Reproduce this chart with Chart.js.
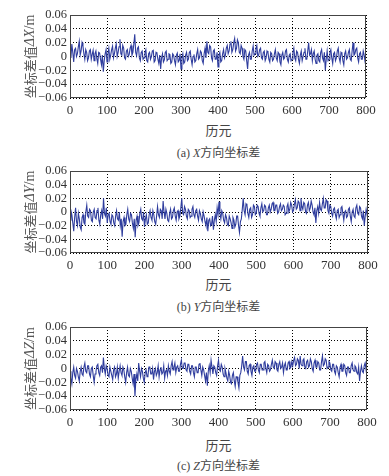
<!DOCTYPE html>
<html>
<head>
<meta charset="utf-8">
<script src="https://cdn.jsdelivr.net/npm/chart.js@4.4.0/dist/chart.umd.min.js"></script>
<style>
  html, body { margin: 0; padding: 0; background: #fff; }
  #wrap { position: relative; width: 389px; height: 476px; overflow: hidden; background: #fff; }
  canvas { position: absolute; left: 0; }
  .lbl { position: absolute; left: 24px; width: 389px; text-align: center; color: #444;
         font-family: "Noto Sans CJK SC", sans-serif; font-size: 12px; line-height: 14px; white-space: nowrap; }
  .xl { font-size: 13px; }
  .ser { font-family: "Liberation Serif", serif; }
  .it { font-family: "Liberation Serif", serif; font-style: italic; }
</style>
</head>
<body>
<div id="wrap">
  <canvas id="cA"></canvas>
  <canvas id="cB"></canvas>
  <canvas id="cC"></canvas>
  <div class="lbl xl" id="xa">历元</div>
  <div class="lbl" id="ca"><span class="ser">(a) </span><span class="it">X</span>方向坐标差</div>
  <div class="lbl xl" id="xb">历元</div>
  <div class="lbl" id="cb"><span class="ser">(b) </span><span class="it">Y</span>方向坐标差</div>
  <div class="lbl xl" id="xc">历元</div>
  <div class="lbl" id="cc"><span class="ser">(c) </span><span class="it">Z</span>方向坐标差</div>
</div>
<script>
// ---- data (epoch step 2.5, values in metres) ----
const epochs = Array.from({length: 321}, (_, i) => i * 2.5);

const dX = [
 0.005,-0.002, 0.018, 0.006,-0.008, 0.010, 0.012, 0.000, 0.004, 0.014,
 0.022, 0.002, 0.008, 0.020, 0.015, 0.004,-0.004, 0.010, 0.006,-0.006,
-0.002, 0.008, 0.010,-0.004, 0.003, 0.009,-0.006, 0.004, 0.008,-0.003,
-0.010, 0.006, 0.005,-0.004,-0.012, 0.002,-0.022,-0.006, 0.004, 0.010,
-0.008, 0.004, 0.012,-0.004, 0.002, 0.010, 0.015,-0.002, 0.004, 0.012,
 0.018, 0.000, 0.006, 0.014, 0.025, 0.004, 0.002, 0.016, 0.012,-0.002,
-0.004, 0.008, 0.010, 0.000, 0.003, 0.012, 0.016, 0.002, 0.006, 0.018,
 0.032, 0.006, 0.001, 0.012, 0.014,-0.002,-0.006, 0.006, 0.008,-0.004,
-0.002, 0.006, 0.010,-0.006,-0.008, 0.004, 0.006,-0.004, 0.000, 0.008,
 0.009,-0.008,-0.006, 0.006, 0.005,-0.004,-0.010, 0.002,-0.018,-0.002,
 0.004,-0.008,-0.005, 0.006, 0.008,-0.006,-0.004, 0.004, 0.003,-0.010,
-0.008, 0.004, 0.002,-0.006,-0.012, 0.002, 0.005,-0.008,-0.006, 0.004,
-0.018,-0.002, 0.004,-0.010,-0.008, 0.002, 0.006,-0.006,-0.004, 0.006,
 0.008,-0.004,-0.012, 0.000, 0.003,-0.008,-0.006, 0.004, 0.010,-0.004,
-0.002, 0.008, 0.006,-0.006,-0.010, 0.004, 0.012,-0.002, 0.022, 0.006,
 0.004, 0.016, 0.014,-0.002,-0.006, 0.008, 0.010,-0.004,-0.004, 0.006,
-0.015, 0.002, 0.006,-0.008,-0.006, 0.004, 0.010,-0.002, 0.002, 0.012,
 0.016, 0.004, 0.008, 0.018, 0.022, 0.006, 0.010, 0.020, 0.026, 0.008,
 0.012, 0.024, 0.020, 0.006, 0.004, 0.016, 0.012, 0.000,-0.004, 0.010,
 0.008,-0.006,-0.018, 0.002, 0.006,-0.004,-0.004, 0.008, 0.015, 0.002,
 0.004, 0.012, 0.016, 0.000, 0.002, 0.010, 0.012,-0.002,-0.004, 0.006,
 0.008,-0.006,-0.002, 0.008, 0.006,-0.004,-0.008, 0.006, 0.004,-0.006,
-0.004, 0.004, 0.010,-0.002,-0.006, 0.006, 0.004,-0.008,-0.012, 0.002,
 0.006,-0.004,-0.002, 0.008, 0.010,-0.004,-0.008, 0.002, 0.004,-0.006,
-0.004, 0.006, 0.012,-0.002,-0.006, 0.008, 0.006,-0.004,-0.010, 0.002,
 0.008,-0.006, 0.000, 0.006, 0.012,-0.004,-0.004, 0.008, 0.020, 0.002,
 0.004, 0.010,-0.006, 0.004, 0.008,-0.004,-0.010, 0.002, 0.004,-0.006,
-0.008, 0.006, 0.010,-0.002,-0.006, 0.006,-0.020,-0.004, 0.008,-0.006,
-0.004, 0.006, 0.010,-0.002,-0.010, 0.004, 0.006,-0.006,-0.002, 0.008,
 0.012,-0.002,-0.008, 0.006, 0.004,-0.006,-0.012, 0.004, 0.008,-0.004,
-0.002, 0.006, 0.010,-0.004,-0.006, 0.008, 0.020, 0.002, 0.004, 0.010,
 0.012,-0.002,-0.008, 0.004, 0.006,-0.004,-0.004, 0.008, 0.002,-0.008,
-0.015
];

const dY = [
-0.012, 0.002,-0.004,-0.016,-0.028,-0.008, 0.006,-0.014,-0.020,-0.002,
-0.010,-0.022,-0.026,-0.008,-0.004,-0.016,-0.018, 0.000, 0.010,-0.006,
-0.008, 0.004, 0.002,-0.012,-0.014, 0.000, 0.004,-0.008,-0.010, 0.002,
 0.006,-0.012,-0.018,-0.004, 0.002,-0.010, 0.020,-0.002,-0.006, 0.006,
-0.016,-0.004,-0.002,-0.014,-0.018,-0.004,-0.006,-0.016,-0.020,-0.006,
 0.002,-0.010,-0.012, 0.000,-0.020,-0.010,-0.036,-0.014,-0.008,-0.020,
-0.018,-0.004, 0.004,-0.010,-0.014,-0.002,-0.004,-0.016,-0.024,-0.010,
-0.037,-0.012,-0.006,-0.020,-0.016,-0.002, 0.004,-0.010,-0.012, 0.000,
-0.022,-0.010,-0.004,-0.018,-0.016,-0.004, 0.002,-0.008,-0.012, 0.002,
-0.004,-0.014,-0.018,-0.006, 0.008,-0.004,-0.008, 0.004, 0.002,-0.010,
 0.016, 0.000,-0.010, 0.004,-0.002,-0.012,-0.014,-0.002, 0.004,-0.010,
-0.008, 0.002, 0.006,-0.006,-0.012, 0.000, 0.002,-0.010,-0.006, 0.006,
 0.020,-0.002,-0.004, 0.008, 0.004,-0.006,-0.010, 0.004, 0.002,-0.008,
-0.006, 0.004, 0.008,-0.004,-0.008, 0.002, 0.004,-0.006,-0.012, 0.002,
-0.002,-0.010,-0.014, 0.000,-0.006,-0.014,-0.020,-0.008,-0.028,-0.012,
-0.010,-0.020,-0.018,-0.006,-0.026,-0.012,-0.004,-0.014, 0.006,-0.004,
 0.015,-0.002,-0.010, 0.002,-0.002,-0.012,-0.016,-0.004,-0.008,-0.018,
-0.020,-0.006,-0.010,-0.016,-0.024,-0.008,-0.012,-0.022,-0.018,-0.006,
-0.006,-0.020,-0.030,-0.014,-0.010, 0.004, 0.020, 0.002,-0.004, 0.012,
 0.010,-0.002,-0.008, 0.004, 0.006,-0.008,-0.004, 0.010, 0.008,-0.004,
-0.002, 0.010, 0.008,-0.002,-0.006, 0.006, 0.012, 0.000, 0.002, 0.010,
 0.008,-0.004,-0.004, 0.006, 0.010, 0.000, 0.004, 0.012, 0.014, 0.002,
 0.002, 0.010, 0.010,-0.002, 0.000, 0.008, 0.012, 0.002, 0.004, 0.010,
 0.008,-0.004,-0.002, 0.008, 0.012, 0.000, 0.004, 0.014, 0.010, 0.000,
 0.002, 0.012, 0.018, 0.004, 0.006, 0.016, 0.014, 0.002, 0.020, 0.008,
 0.004, 0.014, 0.012, 0.000,-0.002, 0.010, 0.014, 0.002, 0.006, 0.016,
 0.010, 0.000,-0.004, 0.006,-0.016, 0.002, 0.008,-0.002, 0.014, 0.004,
 0.002, 0.012, 0.020, 0.006, 0.006, 0.018, 0.016, 0.002,-0.002, 0.010,
 0.008,-0.002,-0.006, 0.004, 0.006,-0.004,-0.010, 0.002, 0.004,-0.008,
-0.004, 0.006, 0.008,-0.002,-0.012, 0.000, 0.002,-0.008,-0.006, 0.004,
 0.006,-0.006,-0.014, 0.000, 0.004,-0.006,-0.008, 0.006, 0.010,-0.002,
-0.004, 0.008, 0.006,-0.006,-0.010, 0.002,-0.020,-0.006, 0.004,-0.004,
 0.010
];

const dZ = [
-0.004,-0.014,-0.022,-0.006, 0.002,-0.010,-0.014, 0.000,-0.004,-0.012,
-0.018,-0.004, 0.002,-0.008,-0.010, 0.002, 0.008,-0.004,-0.006, 0.004,
 0.004,-0.008,-0.012, 0.000, 0.002,-0.010,-0.020,-0.008,-0.004, 0.004,
 0.006,-0.006,-0.010, 0.002, 0.004,-0.006, 0.016, 0.000,-0.008, 0.004,
 0.000,-0.010,-0.012, 0.002,-0.004,-0.010,-0.016,-0.002, 0.002,-0.012,
-0.008, 0.002,-0.014,-0.004, 0.004,-0.006,-0.010, 0.002,-0.002,-0.012,
-0.020,-0.006, 0.002,-0.010,-0.012, 0.000,-0.004,-0.014,-0.022,-0.008,
-0.040,-0.016,-0.008,-0.018, 0.008,-0.004,-0.012, 0.000,-0.004,-0.014,
-0.020,-0.006,-0.002,-0.012,-0.010, 0.002, 0.002,-0.008,-0.008, 0.000,
-0.016,-0.004, 0.000,-0.010,-0.006, 0.004,-0.012,-0.002, 0.002,-0.008,
-0.006, 0.004,-0.014,-0.004,-0.002,-0.010, 0.004,-0.004,-0.008, 0.004,
 0.010,-0.002, 0.002, 0.008,-0.006, 0.002, 0.004,-0.004,-0.004, 0.006,
 0.012, 0.000, 0.000, 0.008, 0.008,-0.002,-0.004, 0.006, 0.006,-0.004,
-0.008, 0.004, 0.004,-0.006,-0.012, 0.002, 0.002,-0.006,-0.006, 0.006,
 0.008,-0.002,-0.010, 0.002,-0.002,-0.010,-0.018,-0.006,-0.025,-0.004,
 0.004,-0.006, 0.012, 0.002,-0.008, 0.004, 0.002,-0.006,-0.010, 0.004,
 0.012,-0.002,-0.004, 0.006, 0.002,-0.008,-0.012, 0.000,-0.006,-0.014,
-0.018,-0.004,-0.010,-0.020,-0.022,-0.010,-0.006,-0.018,-0.026,-0.012,
-0.012,-0.020,-0.028,-0.010,-0.006, 0.004, 0.018, 0.002,-0.002, 0.010,
 0.010,-0.004,-0.008, 0.004, 0.006,-0.004,-0.010, 0.002, 0.004,-0.004,
-0.004, 0.006, 0.008,-0.002,-0.006, 0.006, 0.006,-0.002,-0.002, 0.008,
 0.010, 0.000,-0.006, 0.006, 0.004,-0.004,-0.002, 0.006, 0.012, 0.002,
 0.000, 0.010, 0.008,-0.002,-0.004, 0.006, 0.010, 0.000, 0.002, 0.008,
-0.006, 0.004, 0.008,-0.002,-0.002, 0.008, 0.010, 0.000, 0.002, 0.010,
 0.004, 0.012, 0.016, 0.004, 0.006, 0.014, 0.012, 0.000, 0.018, 0.006,
 0.004, 0.012, 0.014, 0.002, 0.000, 0.010, 0.012, 0.002, 0.004, 0.014,
 0.010, 0.000,-0.004, 0.008, 0.012, 0.002, 0.002, 0.010, 0.008,-0.002,
-0.002, 0.010, 0.018, 0.004, 0.006, 0.014, 0.012, 0.000, 0.002, 0.010,
 0.008,-0.002,-0.004, 0.006, 0.006,-0.004,-0.008, 0.004, 0.002,-0.006,
-0.012, 0.002, 0.006,-0.004,-0.004, 0.006, 0.004,-0.006,-0.010, 0.002,
 0.002,-0.006,-0.006, 0.004, 0.008,-0.002,-0.004, 0.004, 0.002,-0.006,
-0.008, 0.002,-0.018,-0.004, 0.004,-0.004,-0.006, 0.004, 0.008,-0.002,
 0.004
];

const axisLetters = ['X', 'Y', 'Z'];
const yTickLabels = ['0.06', '0.04', '0.02', '0', '\u22120.02', '\u22120.04', '\u22120.06'];
const yTickValues = [0.06, 0.04, 0.02, 0, -0.02, -0.04, -0.06];

// ---- layout (page pixels) ----
const layouts = [
  {canvas: 'cA', top: 15, bottom: 98,  right: 366, xlab: 'xa', xlabY: 130, cap: 'ca', capY: 152},
  {canvas: 'cB', top: 171, bottom: 253, right: 368, xlab: 'xb', xlabY: 284, cap: 'cb', capY: 306},
  {canvas: 'cC', top: 327, bottom: 410, right: 367, xlab: 'xc', xlabY: 445, cap: 'cc', capY: 465}
];
const series = [dX, dY, dZ];

const framePlugin = {
  id: 'frame',
  afterDatasetsDraw(chart) {
    const a = chart.chartArea, ctx = chart.ctx;
    ctx.save();
    ctx.strokeStyle = '#444';
    ctx.lineWidth = 1;
    ctx.strokeRect(Math.round(a.left) + 0.5, Math.round(a.top) + 0.5,
                   Math.round(a.right - a.left) - 1, Math.round(a.bottom - a.top) - 1);
    ctx.restore();
  }
};

const yTitlePlugin = {
  id: 'ytitle',
  afterDraw(chart, args, opts) {
    const a = chart.chartArea, ctx = chart.ctx;
    const segs = [
      {t: '坐标差值', f: '13px "Noto Sans CJK SC"'},
      {t: 'Δ', f: 'italic 14px "Liberation Serif"'},
      {t: opts.letter, f: 'italic 14px "Liberation Serif"'},
      {t: '/m', f: '14px "Liberation Serif"'}
    ];
    let total = 0;
    segs.forEach(s => { ctx.font = s.f; s.w = ctx.measureText(s.t).width; total += s.w; });
    ctx.save();
    ctx.translate(30, (a.top + a.bottom) / 2);
    ctx.rotate(-Math.PI / 2);
    ctx.fillStyle = '#555';
    ctx.textBaseline = 'middle';
    ctx.textAlign = 'left';
    let x = -total / 2;
    segs.forEach(s => { ctx.font = s.f; ctx.fillText(s.t, x, 0); x += s.w; });
    ctx.restore();
  }
};

layouts.forEach((L, k) => {
  const cv = document.getElementById(L.canvas);
  const padTop = 10;
  const axisH = 20;
  const canvasTop = L.top - padTop;
  const h = (L.bottom - canvasTop) + axisH;
  cv.style.top = canvasTop + 'px';
  cv.width = 389; cv.height = h;
  cv.style.width = '389px'; cv.style.height = h + 'px';

  document.getElementById(L.xlab).style.top = (L.xlabY - 7) + 'px';
  document.getElementById(L.cap).style.top = (L.capY - 7) + 'px';

  const pts = epochs.map((e, i) => ({x: e, y: series[k][i]}));

  new Chart(cv, {
    type: 'line',
    data: { datasets: [{
      data: pts,
      borderColor: '#2f3d9e',
      borderWidth: 1.1,
      pointRadius: 0,
      tension: 0,
      fill: false
    }]},
    options: {
      responsive: false,
      animation: false,
      events: [],
      layout: { padding: { left: 0, right: 389 - L.right, top: padTop, bottom: 0 } },
      plugins: {
        legend: { display: false },
        tooltip: { enabled: false },
        ytitle: { letter: axisLetters[k] }
      },
      scales: {
        x: {
          type: 'linear', min: 0, max: 800,
          afterFit(s) { s.height = axisH; },
          ticks: { stepSize: 100, padding: 5, color: '#333', maxRotation: 0, autoSkip: false,
                   font: { family: 'Liberation Serif', size: 13 } },
          grid: { color: '#000', lineWidth: 1, drawTicks: false },
          border: { display: false, dash: [1, 2] }
        },
        y: {
          min: -0.06, max: 0.06,
          afterFit(s) { s.width = 70; },
          afterBuildTicks(s) { s.ticks = yTickValues.map(v => ({value: v})); },
          ticks: {
            padding: 3, color: '#333', autoSkip: false, autoSkipPadding: 0,
            font: { family: 'Liberation Serif', size: 12.5, lineHeight: 1 },
            callback(v) {
              const i = yTickValues.findIndex(t => Math.abs(t - v) < 1e-9);
              return i >= 0 ? yTickLabels[i] : '';
            }
          },
          grid: { color: '#000', lineWidth: 1, drawTicks: false },
          border: { display: false, dash: [1, 2] }
        }
      }
    },
    plugins: [framePlugin, yTitlePlugin]
  });
});
</script>
</body>
</html>
